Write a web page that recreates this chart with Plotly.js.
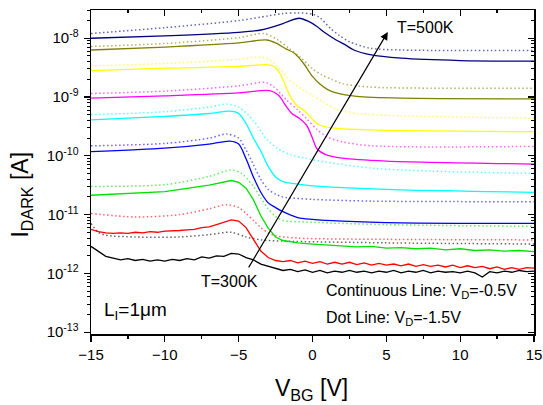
<!DOCTYPE html>
<html>
<head>
<meta charset="utf-8">
<script src="https://cdn.plot.ly/plotly-3.0.1.min.js"></script>
<style>html,body{margin:0;padding:0;background:#fff;}#chart{width:543px;height:405px;}</style>
</head>
<body>
<div id="chart"></div>
<script>
// ---- Data: gate voltage V_BG [V] and log10 of dark current I_DARK [A] ----
// Temperatures 300K..500K in 25K steps; solid: V_D=-0.5V, dotted: V_D=-1.5V
const vbgFine = [-15,-14.5,-14,-13.5,-13,-12.5,-12,-11.5,-11,-10.5,-10,-9.5,-9,-8.5,-8,-7.5,-7,-6.5,-6,-5.5,-5,-4.5,-4,-3.5,-3,-2.5,-2,-1.5,-1,-0.5,0,0.5,1,1.5,2,2.5,3,3.5,4,4.5,5,5.5,6,6.5,7,7.5,8,8.5,9,9.5,10,10.5,11,11.5,12,12.5,13,13.5,14,14.5,15];

// 300K (black)
const logI_300K_solid = [-11.54,-11.63,-11.71,-11.74,-11.77,-11.75,-11.78,-11.76,-11.79,-11.77,-11.79,-11.76,-11.78,-11.75,-11.77,-11.72,-11.74,-11.70,-11.71,-11.66,-11.67,-11.73,-11.77,-11.84,-11.88,-11.92,-11.95,-11.93,-11.97,-11.94,-11.98,-11.95,-11.99,-11.96,-11.98,-11.95,-11.98,-11.96,-11.99,-11.96,-11.98,-11.95,-11.99,-11.96,-11.98,-11.95,-11.99,-11.96,-11.98,-11.97,-11.99,-11.96,-11.99,-12.06,-11.97,-11.99,-11.96,-11.98,-11.95,-11.97,-11.96];
const vbg_300K_dot = [-15,-14.5,-14,-12,-9,-7,-5.5,-4.5,-3.5,-2,5,15];
const logI_300K_dot = [-11.15,-11.30,-11.35,-11.38,-11.38,-11.34,-11.30,-11.38,-11.43,-11.45,-11.48,-11.50];

// 325K (red)
const logI_325K_solid = [-11.25,-11.29,-11.31,-11.32,-11.31,-11.32,-11.30,-11.31,-11.29,-11.30,-11.28,-11.28,-11.27,-11.26,-11.25,-11.22,-11.21,-11.17,-11.13,-11.09,-11.11,-11.22,-11.42,-11.62,-11.73,-11.78,-11.80,-11.78,-11.82,-11.79,-11.83,-11.80,-11.84,-11.81,-11.84,-11.81,-11.85,-11.82,-11.86,-11.83,-11.86,-11.84,-11.87,-11.84,-11.88,-11.85,-11.88,-11.86,-11.89,-11.86,-11.90,-11.87,-11.90,-11.88,-11.92,-11.89,-11.93,-11.90,-11.93,-11.90,-11.91];
const vbg_325K_dot = [-15,-12,-9,-7,-5.8,-5,-4.5,-4,-3.5,-3,-2.5,-1,5,15];
const logI_325K_dot = [-10.98,-11.04,-11.00,-10.90,-10.83,-10.88,-10.98,-11.10,-11.22,-11.31,-11.36,-11.40,-11.42,-11.43];

// 350K (green)
const vbg_350K_solid = [-15,-10,-7,-5.5,-5,-4.5,-4,-3.5,-3,-2.5,-2,-1,0,1,2,3,4,5,6,7,8,9,10,11,12,13,14,15];
const logI_350K_solid = [-10.67,-10.61,-10.50,-10.42,-10.45,-10.55,-10.75,-11.02,-11.23,-11.38,-11.44,-11.48,-11.50,-11.52,-11.53,-11.55,-11.54,-11.57,-11.56,-11.58,-11.57,-11.60,-11.58,-11.61,-11.60,-11.62,-11.61,-11.63];
const vbg_350K_dot = [-15,-10,-7,-5.5,-4.8,-4,-3.5,-3,-2.5,-2,0,5,15];
const logI_350K_dot = [-10.52,-10.49,-10.35,-10.24,-10.30,-10.52,-10.72,-10.90,-11.03,-11.10,-11.13,-11.17,-11.20];

// 375K (blue)
const vbg_375K_solid = [-15,-10,-7,-5.6,-5,-4.5,-4,-3.5,-3,-2.5,-2,-1,0,2,6,15];
const logI_375K_solid = [-9.93,-9.87,-9.80,-9.75,-9.80,-10.05,-10.36,-10.62,-10.80,-10.88,-10.95,-11.05,-11.08,-11.11,-11.14,-11.15];
const vbg_375K_dot = [-15,-10,-7,-5.8,-5,-4.5,-4,-3.5,-3,-2.5,-2,0,4,15];
const logI_375K_dot = [-9.83,-9.79,-9.70,-9.63,-9.70,-9.90,-10.15,-10.40,-10.57,-10.65,-10.70,-10.74,-10.77,-10.78];

// 400K (cyan)
const vbg_400K_solid = [-15,-10,-7,-5.6,-5,-4.5,-4,-3.5,-3,-2.5,-2,-1,0,2,6,15];
const logI_400K_solid = [-9.39,-9.33,-9.28,-9.24,-9.28,-9.45,-9.70,-9.92,-10.18,-10.36,-10.44,-10.48,-10.51,-10.54,-10.58,-10.62];
const vbg_400K_dot = [-15,-10,-7,-5.8,-5,-4,-3.1,-2.4,-1.5,-0.5,1,4,8,15];
const logI_400K_dot = [-9.30,-9.25,-9.17,-9.12,-9.17,-9.40,-9.72,-9.87,-9.98,-10.04,-10.11,-10.21,-10.26,-10.30];

// 425K (magenta)
const vbg_425K_solid = [-15,-10,-5,-2.9,-2.3,-1.8,-1.4,-0.9,-0.4,0,0.3,0.9,2,5,15];
const logI_425K_solid = [-9.02,-8.98,-8.93,-8.89,-8.97,-9.15,-9.28,-9.36,-9.48,-9.70,-9.88,-9.98,-10.04,-10.09,-10.14];
const vbg_425K_dot = [-15,-10,-5,-3.2,-2.6,-1.8,-1,-0.4,0.3,1,2,4,15];
const logI_425K_dot = [-8.94,-8.90,-8.81,-8.75,-8.83,-9.04,-9.22,-9.37,-9.55,-9.68,-9.76,-9.83,-9.84];

// 450K (yellow)
const vbg_450K_solid = [-15,-10,-5,-3.1,-2.6,-2.2,-1.5,-1.0,-0.6,0,0.5,1.5,3.9,15];
const logI_450K_solid = [-8.55,-8.51,-8.48,-8.45,-8.48,-8.60,-8.99,-9.16,-9.22,-9.38,-9.48,-9.53,-9.56,-9.59];
const vbg_450K_dot = [-15,-10,-5,-3.5,-2.9,-2.2,-1.5,-0.7,0,0.7,1.6,3,6,15];
const logI_450K_dot = [-8.47,-8.43,-8.36,-8.32,-8.37,-8.53,-8.72,-8.87,-8.97,-9.08,-9.21,-9.28,-9.32,-9.36];

// 475K (olive)
const vbg_475K_solid = [-15,-10,-5,-3.1,-2.5,-1.8,-1.2,-0.6,0,0.5,1,1.6,3,6,15];
const logI_475K_solid = [-8.20,-8.15,-8.08,-8.03,-8.08,-8.18,-8.26,-8.43,-8.65,-8.78,-8.87,-8.93,-8.99,-9.02,-9.03];
const vbg_475K_dot = [-15,-10,-5,-3.3,-2.4,-1.6,-0.8,0,0.6,1.3,2,3.9,8,15];
const logI_475K_dot = [-8.14,-8.09,-7.99,-7.92,-8.02,-8.17,-8.33,-8.52,-8.62,-8.70,-8.77,-8.83,-8.85,-8.85];

// 500K (navy)
const vbg_500K_solid = [-15,-10,-5,-3.5,-2.2,-1.5,-0.9,-0.3,0.3,0.8,1.6,2.2,2.8,3.9,6,10,15];
const logI_500K_solid = [-8.00,-7.96,-7.90,-7.86,-7.77,-7.70,-7.66,-7.71,-7.80,-7.90,-8.03,-8.11,-8.20,-8.28,-8.34,-8.38,-8.39];
const vbg_500K_dot = [-15,-10,-5,-3,-2,-1,0,0.5,1.2,1.8,2.5,3.9,6,15];
const logI_500K_dot = [-7.92,-7.82,-7.70,-7.62,-7.58,-7.57,-7.59,-7.65,-7.83,-7.95,-8.06,-8.17,-8.20,-8.21];

const xTickVals = [-15,-10,-5,0,5,10,15];
const yDecades = [-13,-12,-11,-10,-9,-8];
const yTickText = ['10<sup>-13</sup>','10<sup>-12</sup>','10<sup>-11</sup>','10<sup>-10</sup>','10<sup>-9</sup>','10<sup>-8</sup>'];

// ---- Build traces ----
const toAmp = a => a.map(v => Math.pow(10, v));
const FONT = 'Liberation Sans, Arial, sans-serif';

const series = [
  {c:'#000000', xs:vbgFine, ys:logI_300K_solid, xd:vbg_300K_dot, yd:logI_300K_dot, noisy:true},
  {c:'#ff0000', xs:vbgFine, ys:logI_325K_solid, xd:vbg_325K_dot, yd:logI_325K_dot, noisy:true},
  {c:'#00e000', xs:vbg_350K_solid, ys:logI_350K_solid, xd:vbg_350K_dot, yd:logI_350K_dot, noisy:true},
  {c:'#0000ff', xs:vbg_375K_solid, ys:logI_375K_solid, xd:vbg_375K_dot, yd:logI_375K_dot},
  {c:'#00ffff', xs:vbg_400K_solid, ys:logI_400K_solid, xd:vbg_400K_dot, yd:logI_400K_dot},
  {c:'#ff00ff', xs:vbg_425K_solid, ys:logI_425K_solid, xd:vbg_425K_dot, yd:logI_425K_dot},
  {c:'#ffff00', xs:vbg_450K_solid, ys:logI_450K_solid, xd:vbg_450K_dot, yd:logI_450K_dot},
  {c:'#808000', xs:vbg_475K_solid, ys:logI_475K_solid, xd:vbg_475K_dot, yd:logI_475K_dot},
  {c:'#000080', xs:vbg_500K_solid, ys:logI_500K_solid, xd:vbg_500K_dot, yd:logI_500K_dot}
];

const traces = [];
series.forEach(s => {
  traces.push({x:s.xd, y:toAmp(s.yd), mode:'lines', type:'scatter', opacity:0.6,
    line:{color:s.c, width:1.5, dash:'1.5px,2.5px', shape:'spline', smoothing:0.8}, showlegend:false, hoverinfo:'skip'});
});
series.forEach(s => {
  traces.push({x:s.xs, y:toAmp(s.ys), mode:'lines', type:'scatter',
    line:{color:s.c, width:1.3, shape:s.noisy?'linear':'spline', smoothing:0.8}, showlegend:false, hoverinfo:'skip'});
});
// dummy trace to activate mirrored top/right axes
traces.push({x:[null], y:[null], xaxis:'x2', yaxis:'y2', mode:'lines', showlegend:false, hoverinfo:'skip'});

const yMinorVals = [];
yDecades.concat([-7]).forEach(d => { for (let k = 2; k <= 9; k++) yMinorVals.push(k*Math.pow(10, d-1)); });
const yMajorVals = yDecades.map(d => Math.pow(10, d));
const yRange = [-13.03, -7.52];

const axCommon = {showline:true, linecolor:'#000', linewidth:1.5, zeroline:false, showgrid:false,
  tickcolor:'#000', tickwidth:1.3, tickfont:{family:FONT, size:15, color:'#000'}};

const layout = {
  width:543, height:405,
  margin:{l:91, r:9, t:10, b:71},
  paper_bgcolor:'#fff', plot_bgcolor:'#fff',
  font:{family:FONT, color:'#000'},
  xaxis: Object.assign({}, axCommon, {range:[-15,15], tickmode:'array', tickvals:xTickVals,
    ticks:'outside', ticklen:6,
    minor:{dtick:2.5, tick0:0, ticks:'outside', ticklen:3, tickwidth:1.3, tickcolor:'#000'}}),
  yaxis: Object.assign({}, axCommon, {type:'log', range:yRange, tickmode:'array', tickvals:yMajorVals, ticktext:yTickText,
    ticks:'outside', ticklen:6, ticklabelstandoff:2,
    minor:{tickmode:'array', tickvals:yMinorVals, ticks:'outside', ticklen:3, tickwidth:1, tickcolor:'#000'}}),
  xaxis2: Object.assign({}, axCommon, {overlaying:'x', side:'top', anchor:'y', range:[-15,15], tickmode:'array', tickvals:xTickVals,
    ticks:'inside', ticklen:6, showticklabels:false,
    minor:{dtick:2.5, tick0:0, ticks:'inside', ticklen:3, tickwidth:1.3, tickcolor:'#000'}}),
  yaxis2: Object.assign({}, axCommon, {overlaying:'y', side:'right', anchor:'x', type:'log', range:yRange, tickmode:'array', tickvals:yMajorVals,
    ticks:'inside', ticklen:6, showticklabels:false,
    minor:{tickmode:'array', tickvals:yMinorVals, ticks:'inside', ticklen:3, tickwidth:1, tickcolor:'#000'}}),
  annotations:[
    {xref:'paper', yref:'paper', x:0.498, y:-0.17, text:'V<sub>BG</sub> [V]', showarrow:false,
      xanchor:'center', yanchor:'middle', font:{family:FONT, size:23}},
    {xref:'paper', yref:'paper', x:-0.156, y:0.43, text:'I<sub>DARK</sub> [A]', textangle:-90, showarrow:false,
      xanchor:'center', yanchor:'middle', font:{family:FONT, size:23}},
    {xref:'x', yref:'y', x:5.1, y:-7.893, axref:'x', ayref:'y', ax:-4.38, ay:-11.923, text:'', showarrow:true,
      arrowhead:2, arrowsize:1.3, arrowwidth:1.2, arrowcolor:'#000'},
    {xref:'x', yref:'y', x:5.58, y:-7.825, text:'T=500K', showarrow:false, xanchor:'left', yanchor:'middle',
      font:{family:FONT, size:16}},
    {xref:'x', yref:'y', x:-7.70, y:-12.144, text:'T=300K', showarrow:false, xanchor:'left', yanchor:'middle',
      font:{family:FONT, size:16}},
    {xref:'paper', yref:'paper', x:0.025, y:0.071, text:'L<sub>I</sub>=1μm', showarrow:false, xanchor:'left', yanchor:'middle',
      font:{family:FONT, size:19}},
    {xref:'paper', yref:'paper', x:0.526, y:0.130, text:'Continuous Line: V<sub>D</sub>=-0.5V', showarrow:false, xanchor:'left', yanchor:'middle',
      font:{family:FONT, size:16}},
    {xref:'paper', yref:'paper', x:0.526, y:0.049, text:'Dot Line: V<sub>D</sub>=-1.5V', showarrow:false, xanchor:'left', yanchor:'middle',
      font:{family:FONT, size:16}}
  ]
};

Plotly.newPlot('chart', traces, layout, {staticPlot:true, displayModeBar:false});
</script>
</body>
</html>
